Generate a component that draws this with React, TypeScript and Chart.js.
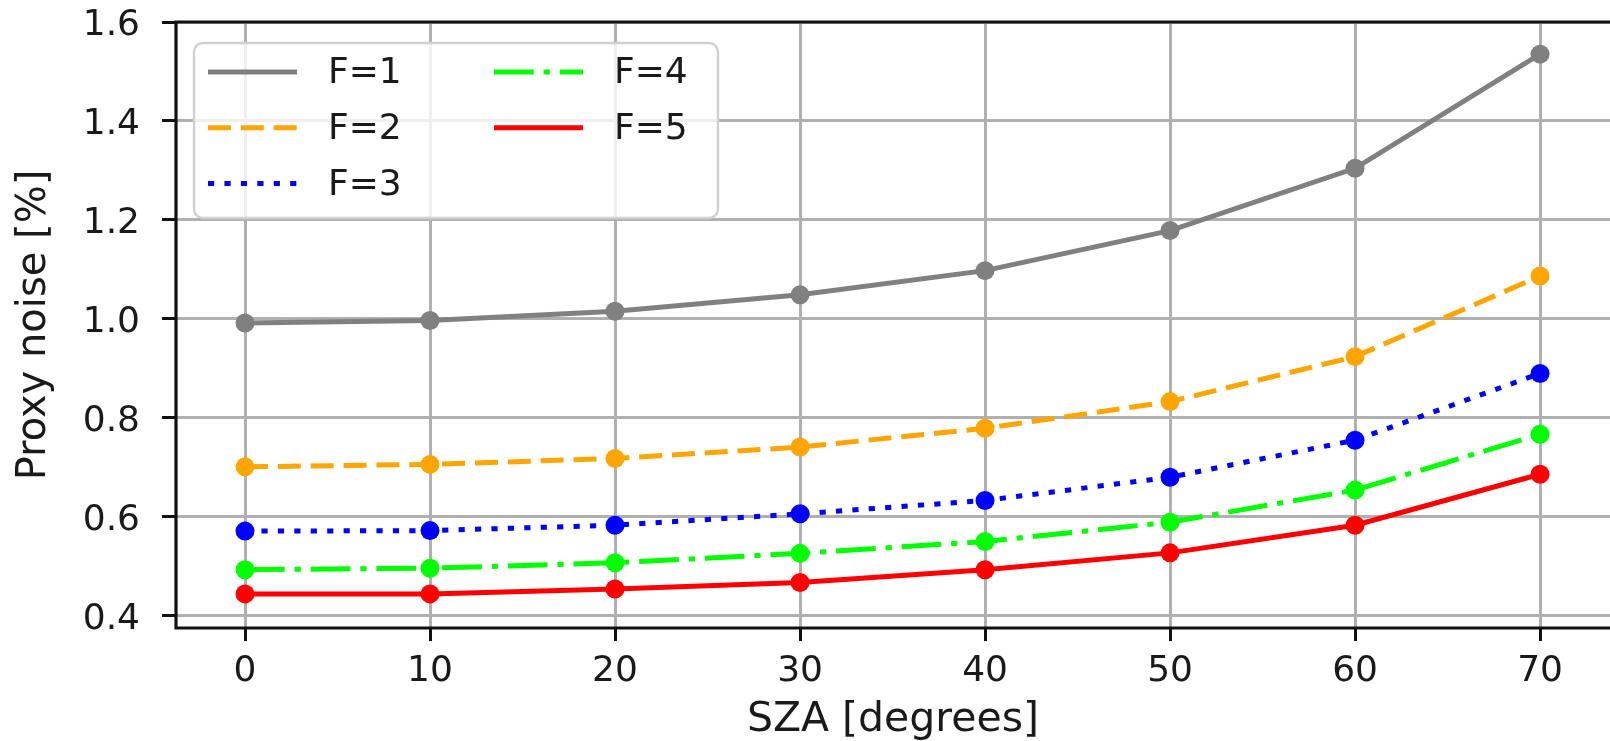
import React, { useEffect, useRef } from "react";
import { Chart, registerables } from "chart.js";

Chart.register(...registerables);

// ---- data ----
const szaValues = [0, 10, 20, 30, 40, 50, 60, 70];
const seriesLabels = ["F=1", "F=2", "F=3", "F=4", "F=5"];
const noiseF1 = [0.991, 0.996, 1.015, 1.048, 1.097, 1.178, 1.304, 1.535];
const noiseF2 = [0.700, 0.705, 0.717, 0.740, 0.778, 0.832, 0.923, 1.086];
const noiseF3 = [0.570, 0.571, 0.582, 0.605, 0.632, 0.679, 0.754, 0.889];
const noiseF4 = [0.492, 0.495, 0.506, 0.525, 0.549, 0.588, 0.653, 0.766];
const noiseF5 = [0.443, 0.443, 0.453, 0.466, 0.492, 0.526, 0.582, 0.685];
const xTickValues = [0, 10, 20, 30, 40, 50, 60, 70];
const yTickValues = [0.4, 0.6, 0.8, 1.0, 1.2, 1.4, 1.6];
const xAxisTitle = "SZA [degrees]";
const yAxisTitle = "Proxy noise [%]";

// ---- styles ----
const seriesColors = ["#808080", "#FFA500", "#0000FF", "#00FF00", "#FF0000"];
const LW = 5;
const DU = 6.2;
const seriesDashes: number[][] = [
  [],
  [3.7 * DU, 1.6 * DU],
  [1 * DU, 1.65 * DU],
  [6.4 * DU, 1.6 * DU, 1 * DU, 1.6 * DU],
  [],
];
const FONT = "'DejaVu Sans', 'Liberation Sans', sans-serif";
const TEXT = "#1a1a1a";

const framePlugin = {
  id: "mplFrame",
  afterDatasetsDraw(chart: any) {
    const { ctx, chartArea: a } = chart;
    ctx.save();
    ctx.strokeStyle = "#111111";
    ctx.lineWidth = 3.2;
    ctx.setLineDash([]);
    ctx.beginPath();
    ctx.moveTo(a.right + 4, a.top);
    ctx.lineTo(a.left, a.top);
    ctx.lineTo(a.left, a.bottom);
    ctx.lineTo(a.right + 4, a.bottom);
    ctx.stroke();
    ctx.restore();
  },
  afterDraw(chart: any) {
    const { ctx } = chart;
    const ds = chart.data.datasets;
    ctx.save();
    // legend frame
    ctx.beginPath();
    ctx.roundRect(194, 43, 524, 175, 9);
    ctx.fillStyle = "rgba(255,255,255,0.8)";
    ctx.fill();
    ctx.lineWidth = 2.4;
    ctx.strokeStyle = "#d0d0d0";
    ctx.stroke();
    ctx.font = `36px ${FONT}`;
    ctx.textBaseline = "middle";
    ctx.textAlign = "left";
    ds.forEach((d: any, i: number) => {
      const col = Math.floor(i / 3);
      const row = i % 3;
      const y = 72 + row * 55.8;
      const x0 = 208 + col * 286;
      ctx.beginPath();
      ctx.setLineDash(d.borderDash || []);
      ctx.lineDashOffset = 0;
      ctx.lineWidth = d.borderWidth;
      ctx.strokeStyle = d.borderColor;
      ctx.lineCap = "butt";
      ctx.moveTo(x0, y);
      ctx.lineTo(x0 + 89, y);
      ctx.stroke();
      ctx.setLineDash([]);
      ctx.fillStyle = TEXT;
      ctx.fillText(d.label, 328 + col * 286, y + 2);
    });
    ctx.restore();
  },
};

export default function App() {
  const canvasRef = useRef<HTMLCanvasElement | null>(null);

  useEffect(() => {
    const canvas = canvasRef.current;
    if (!canvas) return;
    const series = [noiseF1, noiseF2, noiseF3, noiseF4, noiseF5];
    const datasets = series.map((vals, i) => ({
      label: seriesLabels[i],
      data: szaValues.map((x, j) => ({ x, y: vals[j] })),
      borderColor: seriesColors[i],
      backgroundColor: seriesColors[i],
      borderWidth: LW,
      borderDash: seriesDashes[i],
      pointRadius: 9.5,
      pointBorderWidth: 0,
      pointBackgroundColor: seriesColors[i],
      pointStyle: "circle",
      tension: 0,
      fill: false,
      order: 5 - i,
    }));

    const chart = new Chart(canvas, {
      type: "line",
      data: { datasets },
      plugins: [framePlugin],
      options: {
        animation: false,
        responsive: false,
        maintainAspectRatio: false,
        layout: { autoPadding: false, padding: { top: 22, left: 0, right: 0, bottom: 0 } },
        plugins: {
          legend: { display: false },
          tooltip: { enabled: false },
          title: { display: false },
        },
        scales: {
          x: {
            type: "linear",
            min: -3.73,
            max: 73.78,
            afterBuildTicks: (scale: any) => {
              scale.ticks = xTickValues.map((v) => ({ value: v }));
            },
            afterFit: (scale: any) => {
              scale.height = 113;
              scale.paddingLeft = 0;
              scale.paddingRight = 0;
            },
            grid: {
              color: "#b0b0b0",
              lineWidth: 3,
              drawTicks: true,
              tickLength: 13,
              tickColor: "#111111",
              tickWidth: 3,
            },
            border: { display: false },
            ticks: {
              padding: 9,
              color: TEXT,
              font: { family: FONT, size: 36 },
              maxRotation: 0,
              autoSkip: false,
              callback: (v: any) => String(v),
            },
            title: {
              display: true,
              text: xAxisTitle,
              color: TEXT,
              font: { family: FONT, size: 41, lineHeight: 0.6 },
              padding: { top: 0, bottom: 8 },
            },
          },
          y: {
            type: "linear",
            min: 0.374,
            max: 1.6,
            afterBuildTicks: (scale: any) => {
              scale.ticks = yTickValues.map((v) => ({ value: v }));
            },
            afterFit: (scale: any) => {
              scale.width = 176;
              scale.paddingTop = 0;
              scale.paddingBottom = 0;
            },
            grid: {
              color: "#b0b0b0",
              lineWidth: 3,
              drawTicks: true,
              tickLength: 14,
              tickColor: "#111111",
              tickWidth: 3,
            },
            border: { display: false },
            ticks: {
              padding: 22,
              labelOffset: 4,
              color: TEXT,
              font: { family: FONT, size: 36 },
              autoSkip: false,
              callback: (v: any) => Number(v).toFixed(1),
            },
            title: {
              display: true,
              text: yAxisTitle,
              color: TEXT,
              font: { family: FONT, size: 40, lineHeight: 1 },
              padding: { top: 15, bottom: 0 },
            },
          },
        },
      },
    } as any);

    return () => {
      chart.destroy();
    };
  }, []);

  return (
    <canvas
      ref={canvasRef}
      width={1610}
      height={741}
      style={{ position: "fixed", left: 0, top: 0, width: 1610, height: 741, display: "block" }}
    />
  );
}
